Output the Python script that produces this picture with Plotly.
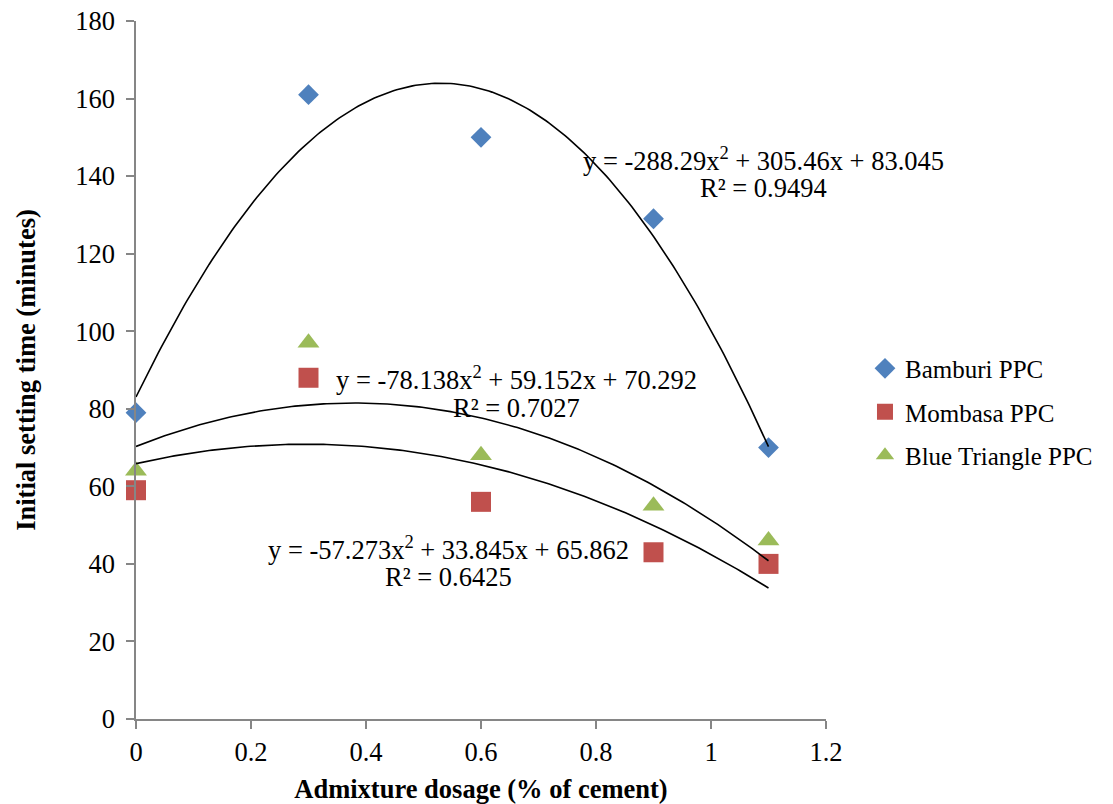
import numpy as np
import plotly.graph_objects as go

dosage = [0, 0.3, 0.6, 0.9, 1.1]
bamburi = [79, 161, 150, 129, 70]
mombasa = [59, 88, 56, 43, 40]
blue_triangle = [64, 97, 68, 55, 46]

# trendline coefficients as displayed (a, b, c) for y = a x^2 + b x + c
coef_bamburi = [-288.29, 305.46, 83.045]
coef_blue = [-78.138, 59.152, 70.292]
coef_mombasa = [-57.273, 33.845, 65.862]

FONT = "Liberation Serif, Times New Roman, serif"
FS = 26.5
AXIS_COLOR = "#868686"

fig = go.Figure()

series = [
    ("Bamburi PPC", bamburi, "#4F81BD", "diamond", 16),
    ("Mombasa PPC", mombasa, "#C0504D", "square", 20),
    ("Blue Triangle PPC", blue_triangle, "#9BBB59", "triangle-up", 19),
]
for i, (name, vals, col, sym, sz) in enumerate(series):
    fig.add_trace(go.Scatter(
        x=dosage, y=vals, mode="markers", name=name,
        legendgroup=f"g{i}",
        marker=dict(color=col, symbol=sym, size=sz, line=dict(width=0)),
        cliponaxis=False,
    ))

xs = np.linspace(0, 1.1, 200)
for coef in (coef_bamburi, coef_blue, coef_mombasa):
    ys = np.polyval(coef, xs)
    fig.add_trace(go.Scatter(x=xs, y=ys, mode="lines", showlegend=False,
                             line=dict(color="black", width=1.6),
                             hoverinfo="skip", cliponaxis=False))

def eq_text(coef):
    return f"y = {coef[0]}x<sup>2</sup> + {coef[1]}x + {coef[2]}"

annots = [
    (eq_text(coef_bamburi), 1.092, 144.3),
    ("R² = 0.9494", 1.092, 137.0),
    (eq_text(coef_blue), 0.661, 88.0),
    ("R² = 0.7027", 0.661, 80.3),
    (eq_text(coef_mombasa), 0.544, 44.0),
    ("R² = 0.6425", 0.544, 36.7),
]
for txt, x, y in annots:
    fig.add_annotation(x=x, y=y, text=txt, showarrow=False,
                       font=dict(family=FONT, size=FS, color="black"),
                       xanchor="center", yanchor="middle")

axis_common = dict(
    showline=True, linecolor=AXIS_COLOR, linewidth=1.5,
    ticks="outside", tickcolor=AXIS_COLOR, ticklen=8, tickwidth=1.5,
    showgrid=False, zeroline=False, automargin=False,
    tickfont=dict(family=FONT, size=FS, color="black"),
)

fig.update_layout(
    width=1113, height=804,
    margin=dict(l=136, r=287, t=21, b=85),
    paper_bgcolor="white", plot_bgcolor="white",
    font=dict(family=FONT, size=FS, color="black"),
    xaxis=dict(range=[0, 1.2], tickvals=[0, 0.2, 0.4, 0.6, 0.8, 1, 1.2],
               ticktext=["0", "0.2", "0.4", "0.6", "0.8", "1", "1.2"],
               title=dict(text="<b>Admixture dosage (% of cement)</b>",
                          font=dict(family=FONT, size=FS, color="black"),
                          standoff=18),
               **axis_common),
    yaxis=dict(range=[0, 180], tickvals=list(range(0, 181, 20)),
               ticklabelstandoff=6,
               title=dict(text="<b>Initial setting time (minutes)</b>",
                          font=dict(family=FONT, size=FS, color="black"),
                          standoff=32),
               **axis_common),
    legend=dict(x=1.0565, y=0.535, xanchor="left", yanchor="top",
                font=dict(family=FONT, size=25, color="black"),
                traceorder="grouped", tracegroupgap=8,
                itemwidth=30, borderwidth=0, bgcolor="rgba(0,0,0,0)"),
    showlegend=True,
)

fig.write_html("out.html")
